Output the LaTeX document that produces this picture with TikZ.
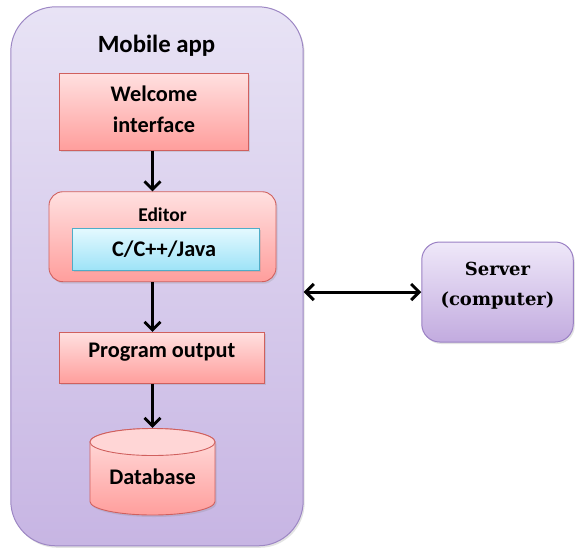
\documentclass[tikz,border=0pt]{standalone}
\usepackage{fontspec}
\setmainfont{Carlito}
\newfontfamily\srvfont{DejaVu Serif}
\usetikzlibrary{arrows.meta,shadows,calc}
\definecolor{appTop}{HTML}{E8E3F5}
\definecolor{appBot}{HTML}{C7B5E3}
\definecolor{appLine}{HTML}{9D87C4}
\definecolor{redTop}{HTML}{FFE0E0}
\definecolor{redBot}{HTML}{FF9E9C}
\definecolor{redLine}{HTML}{D0605E}
\definecolor{cyTop}{HTML}{E4F9FF}
\definecolor{cyBot}{HTML}{9EE3F7}
\definecolor{cyLine}{HTML}{4FADC8}
\definecolor{srvTop}{HTML}{EFE8F9}
\definecolor{srvBot}{HTML}{C2ABDF}
\definecolor{srvLine}{HTML}{9A80C4}
\begin{document}
\begin{tikzpicture}[x=1pt,y=-1pt,
  softshadow/.style={drop shadow={opacity=0.22,shadow xshift=1.5pt,shadow yshift=-2pt}},
  appbox/.style={draw=appLine, line width=1pt, top color=appTop, bottom color=appBot, rounded corners=45pt, inner sep=0pt, softshadow},
  redbox/.style={draw=redLine, line width=0.9pt, top color=redTop, bottom color=redBot, inner sep=0pt, softshadow},
  cybox/.style={draw=cyLine, line width=0.9pt, top color=cyTop, bottom color=cyBot, inner sep=0pt, softshadow},
  srvbox/.style={draw=srvLine, line width=1pt, top color=srvTop, bottom color=srvBot, inner sep=0pt, rounded corners=18pt, softshadow},
  lbl/.style={font=\fontsize{22.3pt}{31pt}\selectfont\bfseries},
  flow/.style={line width=2.8pt, -{Straight Barb[length=8pt,width=16pt]}},
  biflow/.style={line width=3pt, {Straight Barb[length=8pt,width=16pt]}-{Straight Barb[length=8pt,width=16pt]}},
]
\useasboundingbox (0,0) rectangle (576,550);
% outer mobile app container
\node[appbox, minimum width=292.4pt, minimum height=539pt] (app) at (157,276.3) {};
\node[font=\fontsize{24.8pt}{28pt}\selectfont\bfseries, anchor=base] (apptitle) at (156.5,52.7) {Mobile app};
% welcome
\node[redbox, lbl, minimum width=189.4pt, minimum height=76.7pt, align=center, text depth=5.5pt] (wel) at (154,111.7) {Welcome\\interface};
% editor
\node[redbox, rounded corners=14pt, minimum width=227pt, minimum height=90pt] (ed) at (162.5,236.7) {};
\node[font=\fontsize{19.5pt}{22pt}\selectfont\bfseries, anchor=base] (edt) at (162.5,221.7) {Editor};
\node[cybox, minimum width=187pt, minimum height=41.7pt] (lang) at (165.8,249.2) {};
\node[font=\fontsize{22.3pt}{24pt}\selectfont\bfseries, anchor=base] (langt) at (164.2,256) {C/C++/Java};
% program output
\node[redbox, lbl, minimum width=205pt, minimum height=51pt, text height=14pt, text depth=14pt] (out) at (161.8,357.8) {Program output};
% database cylinder
\path[draw=redLine, line width=0.9pt, top color=redTop, bottom color=redBot, softshadow]
  (90,442) -- (90,501.5) arc[start angle=180, end angle=0, x radius=62.5, y radius=13.5]
  -- (215,442) arc[start angle=0, end angle=-180, x radius=62.5, y radius=13.5] -- cycle;
\path[draw=redLine, line width=0.9pt, fill=redTop!85!redBot] (152.5,442) ellipse[x radius=62.5, y radius=13.5];
\node[lbl, inner sep=0pt, minimum width=125pt, minimum height=87pt, text height=40pt, text depth=15pt] (db) at (152.5,471.5) {Database};
% server
\node[srvbox, minimum width=151.5pt, minimum height=100pt, font=\srvfont\fontsize{18pt}{30pt}\selectfont\bfseries, align=center, text depth=17pt] (srv) at (497.5,292) {Server\\(computer)};
% connectors
\draw[flow] (wel.south -| db.north) -- (ed.north -| db.north);
\draw[flow] (ed.south -| db.north) -- (out.north -| db.north);
\draw[flow] (out.south -| db.north) -- (db.north);
\draw[biflow] (srv.west -| app.east) -- (srv.west);
\end{tikzpicture}
\end{document}
